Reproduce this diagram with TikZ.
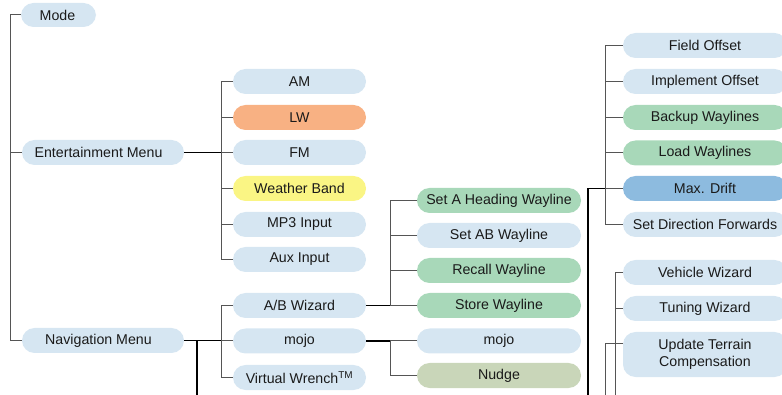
\documentclass[tikz,border=0pt]{standalone}
\usepackage{fontspec}
\setmainfont{Liberation Sans}
\definecolor{cblue}{HTML}{D6E6F2}
\definecolor{corange}{HTML}{F8B183}
\definecolor{cyellow}{HTML}{FAF584}
\definecolor{cgreen}{HTML}{A8D8B9}
\definecolor{cdrift}{HTML}{8DBBDF}
\definecolor{cnudge}{HTML}{C9D6B9}
\definecolor{ctext}{HTML}{1A1A1A}
\definecolor{cline}{HTML}{555555}
\begin{document}
\begin{tikzpicture}[x=1pt,y=-1pt,
  pill/.style={rounded corners=12.5pt, fill=cblue, minimum height=25pt, inner sep=0pt,
     text=ctext, font=\fontsize{14.2}{16.5}\selectfont, align=center},
  w1/.style={minimum width=162pt},
  w2/.style={minimum width=133pt},
  w3/.style={minimum width=164pt},
  br/.style={draw=cline, line width=1pt},
  par/.style={draw=black, line width=1.8pt}]
\useasboundingbox (0,0) rectangle (782,395);

% column 0
\node[pill, minimum width=75pt, minimum height=24pt] (mode) at (58.5,15) {Mode\hspace*{2pt}};
\node[pill,w1] (ent) at (103,152.5) {Entertainment Menu\hspace*{9pt}};
\node[pill,w1] (nav) at (103,340.5) {Navigation Menu\hspace*{9pt}};

% column 1
\node[pill,w2] (am) at (299.5,81.5) {AM};
\node[pill,w2,fill=corange] (lw) at (299.5,117.5) {LW};
\node[pill,w2] (fm) at (299.5,152.5) {FM};
\node[pill,w2,fill=cyellow] (wb) at (299.5,188.5) {Weather Band};
\node[pill,w2] (mp3) at (299.5,224.5) {MP3 Input};
\node[pill,w2] (aux) at (299.5,259.5) {Aux Input};
\node[pill,w2] (ab) at (299.5,305.5) {A/B Wizard};
\node[pill,w2] (mojo) at (299.5,341) {mojo};
\node[pill,w2] (vw) at (299.5,377.5) {Virtual Wrench\textsuperscript{TM}};

% column 2
\node[pill,w3,fill=cgreen] (seta) at (499,200.5) {Set A Heading Wayline};
\node[pill,w3] (setab) at (499,235.5) {Set AB Wayline};
\node[pill,w3,fill=cgreen] (recall) at (499,270.5) {Recall Wayline};
\node[pill,w3,fill=cgreen] (store) at (499,305.5) {Store Wayline};
\node[pill,w3] (mojob) at (499,341) {mojo};
\node[pill,w3,fill=cnudge] (nudge) at (499,375.5) {Nudge};

% column 3
\node[pill,w3] (field) at (705,45.5) {Field Offset};
\node[pill,w3] (impl) at (705,81.5) {Implement Offset};
\node[pill,w3,fill=cgreen] (backup) at (705,117.5) {Backup Waylines};
\node[pill,w3,fill=cgreen] (load) at (705,153) {Load Waylines};
\node[pill,w3,fill=cdrift] (drift) at (705,188.5) {Max. Drift};
\node[pill,w3] (setdir) at (705,224.5) {Set Direction Forwards};
\node[pill,w3] (veh) at (705,272.5) {Vehicle Wizard};
\node[pill,w3] (tun) at (705,308.5) {Tuning Wizard};
\node[pill,w3,minimum height=45pt] (upd) at (705,354.5) {Update Terrain\\Compensation};

% bracket x positions
\coordinate (tx) at (10,0);
\coordinate (ex) at (221,0);
\coordinate (abx) at (390,0);
\coordinate (navdown) at (197,395);
\coordinate (rdown) at (588,395);
\coordinate (rx) at (605,0);
\coordinate (vx) at (615,0);
\coordinate (vdown) at (615,395);
\coordinate (udown) at (605,395);

% trunk
\draw[br] (mode.west) -- (mode.west -| tx) -- (nav.west -| tx) -- (nav.west);
\draw[br] (ent.west) -- (ent.west -| tx);

% entertainment
\draw[par] (ent.east) -- (ent.east -| ex);
\draw[br] (am.west) -- (am.west -| ex) -- (aux.west -| ex) -- (aux.west);
\foreach \n in {lw,fm,wb,mp3} \draw[br] (\n.west) -- (\n.west -| ex);

% navigation
\draw[par] (nav.east) -- (nav.east -| ex);
\draw[par] (nav.east -| navdown) -- (navdown);
\draw[br] (ab.west) -- (ab.west -| ex) -- (vw.west -| ex) -- (vw.west);
\draw[br] (mojo.west) -- (mojo.west -| ex);

% A/B wizard
\draw[par] (ab.east) -- (ab.east -| abx);
\draw[br] (seta.west) -- (seta.west -| abx) -- (store.west -| abx) -- (store.west);
\foreach \n in {setab,recall} \draw[br] (\n.west) -- (\n.west -| abx);

% mojo
\draw[par] (mojo.east) -- (mojo.east -| abx);
\draw[br] (mojob.west) -- (mojob.west -| abx) -- (nudge.west -| abx) -- (nudge.west);

% right group
\draw[par] (rdown) |- (drift.west -| rx);
\draw[br] (field.west) -- (field.west -| rx) -- (setdir.west -| rx) -- (setdir.west);
\foreach \n in {impl,backup,load,drift} \draw[br] (\n.west) -- (\n.west -| rx);

% wizards
\draw[br] (veh.west) -- (veh.west -| vx) -- (vdown);
\draw[br] (tun.west) -- (tun.west -| vx);
\draw[br] (udown) |- ([yshift=10.5pt]upd.west);
\end{tikzpicture}
\end{document}
